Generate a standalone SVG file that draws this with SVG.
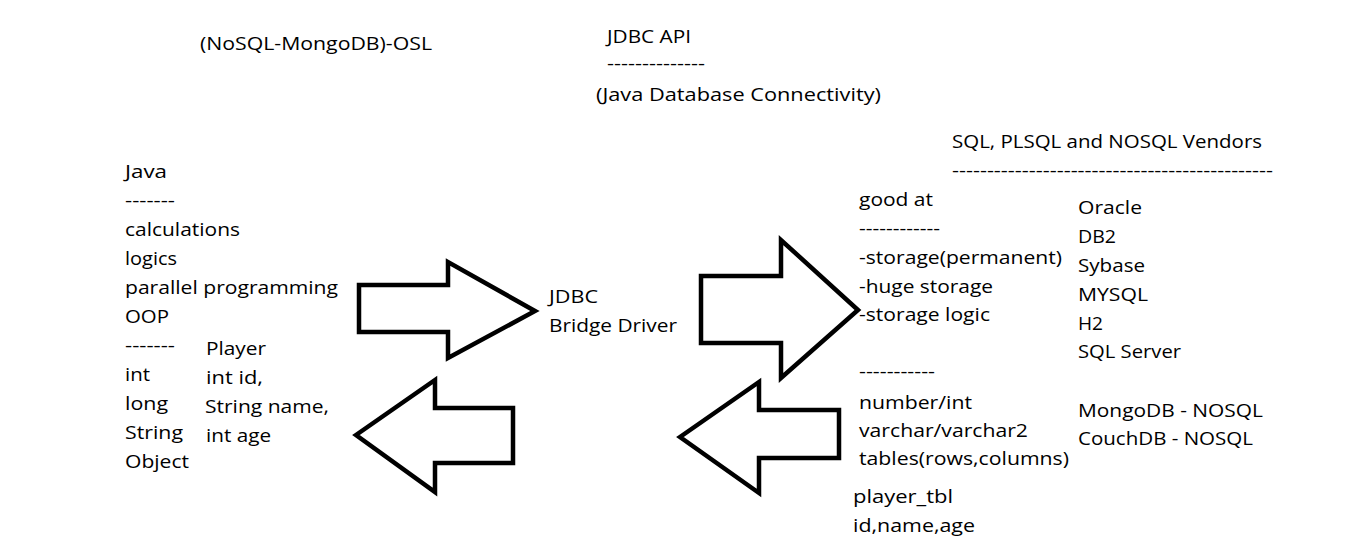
<svg xmlns="http://www.w3.org/2000/svg" width="1357" height="553" viewBox="0 0 1357 553">
<style>
text{font-family:"Open Sans","Liberation Sans",sans-serif;font-size:19px;fill:#000}
.arrow{fill:#fff;stroke:#000;stroke-width:4.5;stroke-linejoin:miter}
</style>
<rect width="1357" height="553" fill="#fff"/>
<g id="title-osl"><text x="200" y="50" textLength="232" lengthAdjust="spacingAndGlyphs">(NoSQL-MongoDB)-OSL</text></g>
<g id="jdbc-api">
<text x="607" y="43" textLength="84" lengthAdjust="spacingAndGlyphs">JDBC API</text>
<text x="607" y="70" textLength="98" lengthAdjust="spacingAndGlyphs">--------------</text>
<text x="596" y="101" textLength="285" lengthAdjust="spacingAndGlyphs">(Java Database Connectivity)</text>
</g>
<g id="java">
<text x="125" y="178" textLength="42" lengthAdjust="spacingAndGlyphs">Java</text>
<text x="125" y="207" textLength="50" lengthAdjust="spacingAndGlyphs">-------</text>
<text x="125" y="236" textLength="115" lengthAdjust="spacingAndGlyphs">calculations</text>
<text x="125" y="265" textLength="52" lengthAdjust="spacingAndGlyphs">logics</text>
<text x="125" y="294" textLength="213" lengthAdjust="spacingAndGlyphs">parallel programming</text>
<text x="125" y="323" textLength="44" lengthAdjust="spacingAndGlyphs">OOP</text>
<text x="125" y="352" textLength="50" lengthAdjust="spacingAndGlyphs">-------</text>
<text x="125" y="381" textLength="25" lengthAdjust="spacingAndGlyphs">int</text>
<text x="125" y="410" textLength="43" lengthAdjust="spacingAndGlyphs">long</text>
<text x="125" y="439" textLength="58" lengthAdjust="spacingAndGlyphs">String</text>
<text x="125" y="468" textLength="64" lengthAdjust="spacingAndGlyphs">Object</text>
</g>
<g id="player">
<text x="206" y="355" textLength="60" lengthAdjust="spacingAndGlyphs">Player</text>
<text x="206" y="384" textLength="57" lengthAdjust="spacingAndGlyphs">int id,</text>
<text x="205" y="413" textLength="124" lengthAdjust="spacingAndGlyphs">String name,</text>
<text x="206" y="442" textLength="65" lengthAdjust="spacingAndGlyphs">int age</text>
</g>
<g id="bridge">
<text x="549" y="303" textLength="49" lengthAdjust="spacingAndGlyphs">JDBC</text>
<text x="549" y="332" textLength="128" lengthAdjust="spacingAndGlyphs">Bridge Driver</text>
</g>
<g id="vendors-title">
<text x="952" y="148" textLength="310" lengthAdjust="spacingAndGlyphs">SQL, PLSQL and NOSQL Vendors</text>
<text x="952" y="177" textLength="321" lengthAdjust="spacingAndGlyphs">----------------------------------------------</text>
</g>
<g id="db">
<text x="859" y="206" textLength="74" lengthAdjust="spacingAndGlyphs">good at</text>
<text x="859" y="235" textLength="81" lengthAdjust="spacingAndGlyphs">------------</text>
<text x="859" y="264" textLength="203" lengthAdjust="spacingAndGlyphs">-storage(permanent)</text>
<text x="859" y="293" textLength="134" lengthAdjust="spacingAndGlyphs">-huge storage</text>
<text x="859" y="321" textLength="131" lengthAdjust="spacingAndGlyphs">-storage logic</text>
<text x="859" y="378" textLength="76" lengthAdjust="spacingAndGlyphs">-----------</text>
<text x="859" y="409" textLength="113" lengthAdjust="spacingAndGlyphs">number/int</text>
<text x="859" y="437" textLength="169" lengthAdjust="spacingAndGlyphs">varchar/varchar2</text>
<text x="859" y="465" textLength="210" lengthAdjust="spacingAndGlyphs">tables(rows,columns)</text>
<text x="853" y="503" textLength="100" lengthAdjust="spacingAndGlyphs">player_tbl</text>
<text x="853" y="532" textLength="122" lengthAdjust="spacingAndGlyphs">id,name,age</text>
</g>
<g id="vendors">
<text x="1078" y="214" textLength="64" lengthAdjust="spacingAndGlyphs">Oracle</text>
<text x="1078" y="243" textLength="38" lengthAdjust="spacingAndGlyphs">DB2</text>
<text x="1078" y="272" textLength="67" lengthAdjust="spacingAndGlyphs">Sybase</text>
<text x="1078" y="301" textLength="70" lengthAdjust="spacingAndGlyphs">MYSQL</text>
<text x="1078" y="330" textLength="25" lengthAdjust="spacingAndGlyphs">H2</text>
<text x="1078" y="358" textLength="103" lengthAdjust="spacingAndGlyphs">SQL Server</text>
<text x="1078" y="417" textLength="185" lengthAdjust="spacingAndGlyphs">MongoDB - NOSQL</text>
<text x="1078" y="445" textLength="175" lengthAdjust="spacingAndGlyphs">CouchDB - NOSQL</text>
</g>
<g id="connectors">
<polygon class="arrow" points="359,285 448,285 448,262 535,311 448,358 448,332 359,332"/>
<polygon class="arrow" points="356,435 435,380 435,408 513,408 513,463 435,463 435,492"/>
<polygon class="arrow" points="701,276 781,276 781,240 858,310 781,378 781,343 701,343"/>
<polygon class="arrow" points="680,437 759,382 759,410 839,410 839,458 759,458 759,493"/>
</g>
</svg>
